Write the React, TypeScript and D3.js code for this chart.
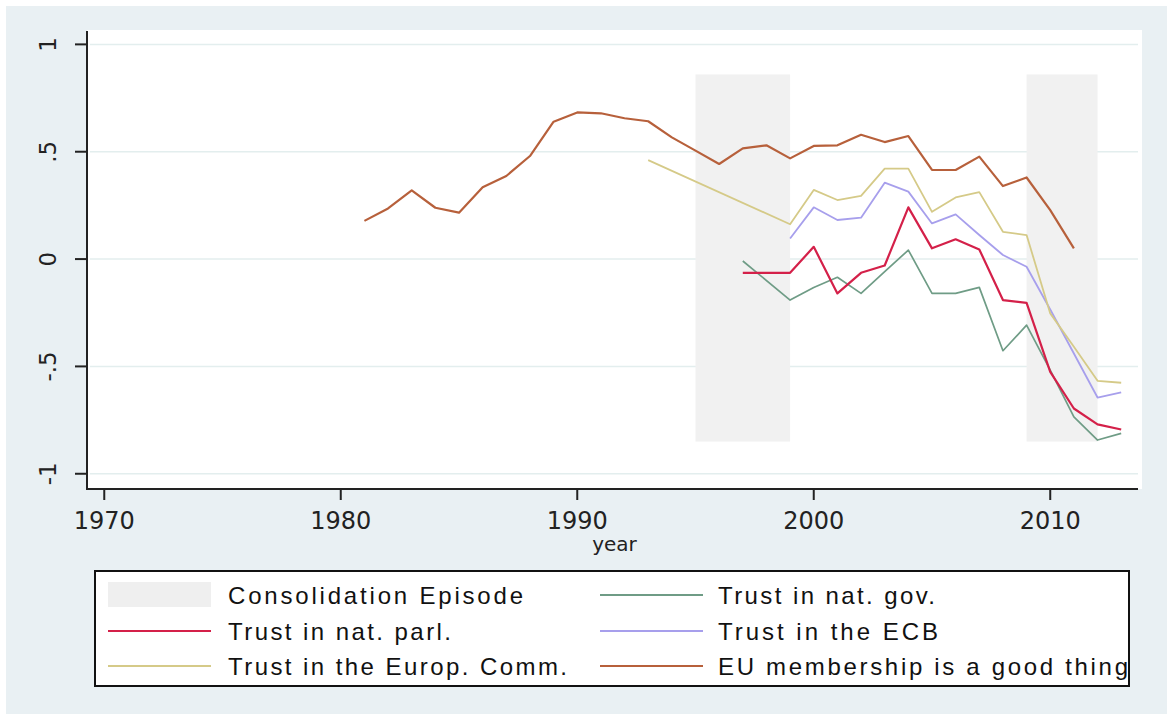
import React from "react";
import * as d3 from "d3";

const W = 1167;
const H = 714;

// Consolidation episodes (start year, end year), shaded band limits
const episodes: [number, number][] = [
  [1995, 1999],
  [2009, 2012],
];
const shadeRange: [number, number] = [-0.85, 0.86];

const xTicks = [1970, 1980, 1990, 2000, 2010];
const yTicks = [-1, -0.5, 0, 0.5, 1];
const yTickLabels = ["-1", "-.5", "0", ".5", "1"];

const euYears = [1981, 1982, 1983, 1984, 1985, 1986, 1987, 1988, 1989, 1990, 1991, 1992, 1993, 1994, 1995, 1996, 1997, 1998, 1999, 2000, 2001, 2002, 2003, 2004, 2005, 2006, 2007, 2008, 2009, 2010, 2011];
const euValues = [0.178, 0.236, 0.32, 0.239, 0.216, 0.334, 0.387, 0.48, 0.64, 0.683, 0.679, 0.656, 0.642, 0.567, 0.505, 0.443, 0.516, 0.53, 0.469, 0.527, 0.53, 0.579, 0.545, 0.573, 0.415, 0.415, 0.477, 0.34, 0.38, 0.228, 0.05];

const commYears = [1993, 1999, 2000, 2001, 2002, 2003, 2004, 2005, 2006, 2007, 2008, 2009, 2010, 2011, 2012, 2013];
const commValues = [0.461, 0.162, 0.322, 0.275, 0.294, 0.421, 0.421, 0.22, 0.287, 0.312, 0.127, 0.112, -0.253, -0.408, -0.567, -0.576];

const ecbYears = [1999, 2000, 2001, 2002, 2003, 2004, 2005, 2006, 2007, 2008, 2009, 2010, 2011, 2012, 2013];
const ecbValues = [0.096, 0.241, 0.182, 0.193, 0.356, 0.314, 0.166, 0.208, 0.112, 0.019, -0.036, -0.235, -0.44, -0.645, -0.621];

const parlYears = [1997, 1998, 1999, 2000, 2001, 2002, 2003, 2004, 2005, 2006, 2007, 2008, 2009, 2010, 2011, 2012, 2013];
const parlValues = [-0.064, -0.064, -0.064, 0.057, -0.16, -0.064, -0.03, 0.241, 0.05, 0.092, 0.045, -0.191, -0.204, -0.525, -0.696, -0.77, -0.794];

const govYears = [1997, 1999, 2000, 2001, 2002, 2003, 2004, 2005, 2006, 2007, 2008, 2009, 2010, 2011, 2012, 2013];
const govValues = [-0.009, -0.191, -0.132, -0.085, -0.16, -0.059, 0.042, -0.16, -0.16, -0.132, -0.427, -0.308, -0.517, -0.735, -0.843, -0.812];

type Series = { name: string; years: number[]; values: number[]; color: string; width: number };

const series: Series[] = [
  { name: "Trust in nat. gov.", years: govYears, values: govValues, color: "#6f9c86", width: 1.7 },
  { name: "Trust in nat. parl.", years: parlYears, values: parlValues, color: "#d42049", width: 2.2 },
  { name: "Trust in the ECB", years: ecbYears, values: ecbValues, color: "#a79fec", width: 1.8 },
  { name: "Trust in the Europ. Comm.", years: commYears, values: commValues, color: "#d5ca88", width: 1.8 },
  { name: "EU membership is a good thing", years: euYears, values: euValues, color: "#b7603b", width: 2.2 },
];

const legendItems = [
  { label: "Consolidation Episode", kind: "area", color: "#efefef", col: 0, row: 0, len: 295 },
  { label: "Trust in nat. gov.", kind: "line", color: "#6f9c86", col: 1, row: 0, len: 217 },
  { label: "Trust in nat. parl.", kind: "line", color: "#d42049", col: 0, row: 1, len: 223 },
  { label: "Trust in the ECB", kind: "line", color: "#a79fec", col: 1, row: 1, len: 220 },
  { label: "Trust in the Europ. Comm.", kind: "line", color: "#d5ca88", col: 0, row: 2, len: 339 },
  { label: "EU membership is a good thing", kind: "line", color: "#b7603b", col: 1, row: 2, len: 410 },
];

const plot = { left: 87, right: 1142, top: 30, bottom: 489 };

export default function App() {
  const x = d3.scaleLinear().domain([1969.27, 2013.88]).range([plot.left, plot.right]);
  const y = d3.scaleLinear().domain([-1.071, 1.067]).range([plot.bottom, plot.top]);
  const line = d3
    .line<[number, number]>()
    .x((d) => x(d[0]))
    .y((d) => y(d[1]));

  const font = "'DejaVu Sans', sans-serif";
  const legendFont = "'Liberation Sans', Arial, sans-serif";
  const colKeyX = [108, 600];
  const colTextX = [228, 718];
  const rowY = [595, 631, 666];

  return (
    <svg width={W} height={H} style={{ position: "absolute", left: 0, top: 0 }}>
      <defs>
        <clipPath id="legendClip">
          <rect x={95} y={571} width={1035} height={115} />
        </clipPath>
      </defs>
      <rect x={0} y={0} width={W} height={H} fill="#ffffff" />
      <rect x={6} y={6} width={W - 6} height={H - 6} fill="#e9f0f3" />
      <rect x={plot.left} y={plot.top} width={plot.right - plot.left} height={plot.bottom - plot.top} fill="#ffffff" />

      {/* grid */}
      {yTicks.map((t) => (
        <line key={"g" + t} x1={plot.left + 3} x2={plot.right - 4} y1={y(t)} y2={y(t)} stroke="#e3eeee" strokeWidth={1.5} />
      ))}

      {/* consolidation episodes */}
      {episodes.map(([a, b]) => (
        <rect key={"e" + a} x={x(a)} y={y(shadeRange[1])} width={x(b) - x(a)} height={y(shadeRange[0]) - y(shadeRange[1])} fill="#f1f1f1" />
      ))}

      {/* series lines */}
      {series.map((s) => (
        <path
          key={s.name}
          d={line(s.years.map((yr, i) => [yr, s.values[i]] as [number, number])) || ""}
          fill="none"
          stroke={s.color}
          strokeWidth={s.width}
          strokeLinejoin="round"
        />
      ))}

      {/* y axis */}
      <line x1={plot.left} x2={plot.left} y1={plot.top + 1} y2={plot.bottom} stroke="#222" strokeWidth={2} />
      {yTicks.map((t, i) => (
        <g key={"yt" + t}>
          <line x1={plot.left - 12} x2={plot.left} y1={y(t)} y2={y(t)} stroke="#222" strokeWidth={2} />
          <text
            transform={`translate(${56},${y(t)}) rotate(-90)`}
            textAnchor="middle"
            fontFamily={font}
            fontSize={23}
            fill="#222"
          >
            {yTickLabels[i]}
          </text>
        </g>
      ))}

      {/* x axis */}
      <line x1={plot.left - 1} x2={plot.right - 4} y1={plot.bottom} y2={plot.bottom} stroke="#222" strokeWidth={2} />
      {xTicks.map((t) => (
        <g key={"xt" + t}>
          <line x1={x(t)} x2={x(t)} y1={plot.bottom} y2={plot.bottom + 11} stroke="#222" strokeWidth={2} />
          <text x={x(t)} y={529} textAnchor="middle" fontFamily={font} fontSize={24} fill="#222">
            {t}
          </text>
        </g>
      ))}
      <text x={(plot.left + plot.right) / 2} y={551} textAnchor="middle" fontFamily={font} fontSize={20} fill="#222">
        year
      </text>

      {/* legend */}
      <rect x={95} y={571} width={1034} height={115} fill="#ffffff" stroke="#111" strokeWidth={2} />
      <g clipPath="url(#legendClip)">
        {legendItems.map((it) => {
          const cy = rowY[it.row];
          return (
            <g key={it.label}>
              {it.kind === "area" ? (
                <rect x={colKeyX[it.col]} y={cy - 13} width={103} height={25} fill={it.color} />
              ) : (
                <line x1={colKeyX[it.col]} x2={colKeyX[it.col] + 103} y1={cy} y2={cy} stroke={it.color} strokeWidth={2.2} />
              )}
              <text
                x={colTextX[it.col]}
                y={cy + 9}
                fontFamily={legendFont}
                fontSize={24}
                fill="#111"
                textLength={it.len}
                lengthAdjust="spacing"
              >
                {it.label}
              </text>
            </g>
          );
        })}
      </g>
    </svg>
  );
}
